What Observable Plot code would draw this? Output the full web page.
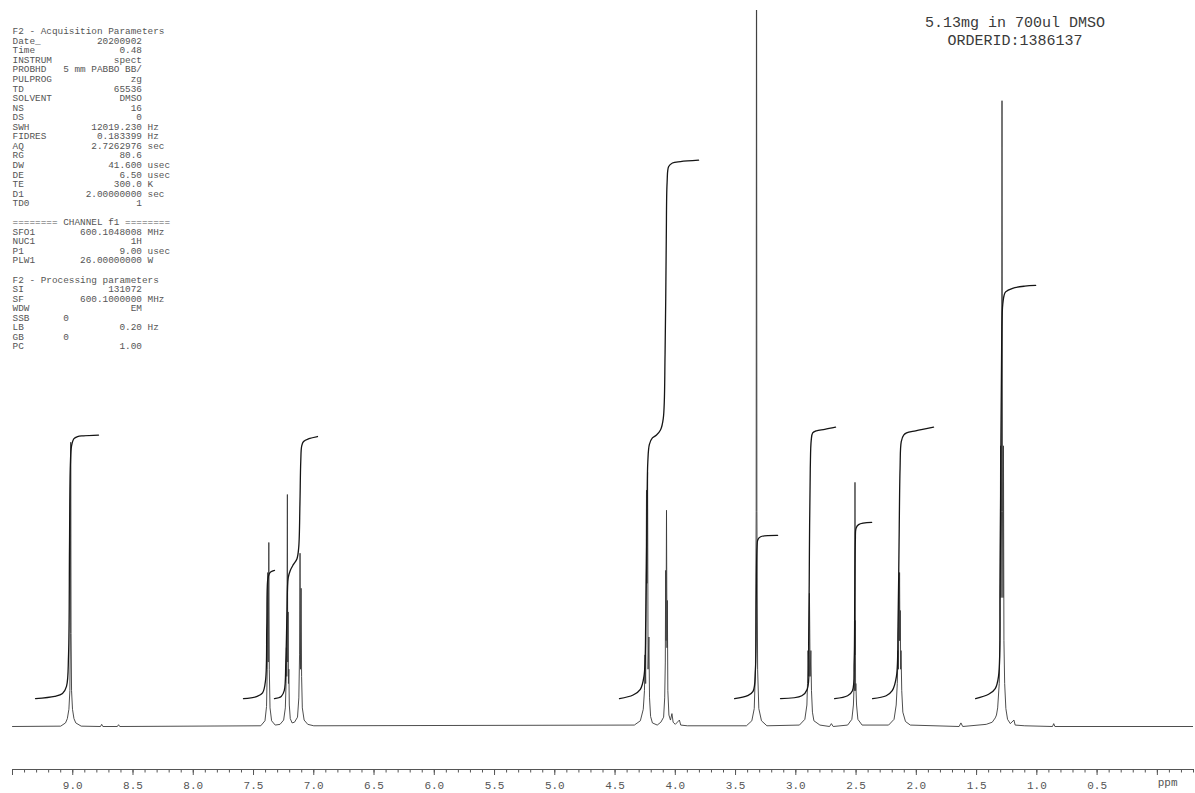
<!DOCTYPE html>
<html>
<head>
<meta charset="utf-8">
<script src="https://cdn.jsdelivr.net/npm/d3@7"></script>
<script src="https://cdn.jsdelivr.net/npm/@observablehq/plot@0.6"></script>
<style>
  html, body { margin: 0; padding: 0; background: #fff; }
  #chart svg text { white-space: pre; }
</style>
</head>
<body>
<div id="chart"></div>
<script>
// ---- 1H spectrum trace: [ppm, intensity] (100 = top of plot) ----
const baselineEnds = [[9.5, 0], [-0.3, 0]];
const m902 = [[9.10,0.05],[9.06,0.5],[9.045,1.1],[9.032,2.4],[9.024,5],[9.020,13],[9.017,39.7],[9.014,13],[9.010,5],[9.002,2.4],[8.99,1.1],[8.975,0.5],[8.93,0.05]];
const m738 = [[7.44,0.1],[7.405,0.8],[7.392,2.8],[7.386,8],[7.382,21.5],[7.378,9],[7.373,25.7],[7.369,8],[7.363,2.6],[7.35,0.8],[7.32,0.2]];
const m722 = [[7.28,0.3],[7.25,0.9],[7.236,2.6],[7.230,6],[7.227,11],[7.224,7],[7.219,32.4],[7.216,9],[7.213,16],[7.210,6],[7.207,8],[7.203,3],[7.195,1.1],[7.18,0.5],[7.16,0.6]];
const m711 = [[7.135,1.3],[7.124,4],[7.118,10],[7.114,24.2],[7.110,8],[7.105,19.3],[7.101,7],[7.095,2.6],[7.08,0.9],[7.05,0.3],[7.00,0.1]];
const m423 = [[4.34,0.2],[4.29,0.8],[4.266,2.4],[4.256,5],[4.251,10],[4.246,6],[4.239,33],[4.235,20],[4.230,35.5],[4.226,8],[4.219,12.5],[4.214,4],[4.205,1.4],[4.19,0.5],[4.15,0.2],[4.12,0.6]];
const m407 = [[4.097,1.3],[4.088,4],[4.083,9],[4.080,21.8],[4.077,12],[4.073,30.2],[4.069,11],[4.066,17.6],[4.062,5],[4.053,1.6],[4.04,0.9],[4.028,1.8],[4.018,0.6],[4.00,0.3],[3.966,0.9],[3.955,0.2],[3.90,0.1]];
const m333 = [[3.41,0.1],[3.365,0.8],[3.345,2.5],[3.335,8],[3.329,30],[3.326,130],[3.323,30],[3.317,8],[3.307,2.5],[3.285,0.8],[3.24,0.1]];
const m289 = [[2.97,0.2],[2.925,1],[2.908,3],[2.903,6],[2.899,10.6],[2.893,7],[2.887,18.6],[2.881,7],[2.875,10.6],[2.870,5],[2.862,2],[2.85,0.8],[2.80,0.2]];
const m251 = [[2.57,0.2],[2.535,1],[2.522,3],[2.516,6],[2.514,5],[2.512,14.8],[2.510,10],[2.509,34.1],[2.508,10],[2.506,14.8],[2.504,5],[2.502,6],[2.496,3],[2.485,1],[2.45,0.2]];
const m214 = [[2.23,0.2],[2.185,1],[2.167,3],[2.158,6],[2.152,10.6],[2.148,8],[2.145,17.6],[2.142,12],[2.139,21.5],[2.136,12],[2.133,16.2],[2.130,8],[2.127,10.6],[2.121,5],[2.112,2],[2.09,0.7],[2.05,0.2]];
const m129 = [[1.42,0.3],[1.37,0.6],[1.345,1.2],[1.335,1.6],[1.325,2.6],[1.312,6],[1.306,12],[1.301,39.2],[1.297,18],[1.293,30],[1.289,87.4],[1.285,30],[1.281,18],[1.277,39.2],[1.273,12],[1.267,6],[1.257,2.5],[1.243,1],[1.22,0.4],[1.19,0.9],[1.18,0.2],[1.10,0.1]];
const smallBumps = [[8.77,0],[8.76,0.3],[8.75,0],[8.63,0],[8.62,0.25],[8.61,0],[2.72,0],[2.705,0.4],[2.69,0],[1.645,0],[1.63,0.5],[1.615,0],[0.87,0],[0.86,0.4],[0.85,0]];

// ---- integral traces ----
const int902 = [[9.309,3.9],[9.15,4.2],[9.085,4.6],[9.052,5.6],[9.035,10],[9.027,25],[9.020,36.5],[9.010,39.2],[8.990,40.2],[8.960,40.5],[8.911,40.6],[8.786,40.7]];
const int738 = [[7.583,3.9],[7.47,4.2],[7.425,4.7],[7.40,6.5],[7.39,14],[7.382,20.5],[7.370,21.3],[7.355,21.6],[7.326,21.8]];
const int716 = [[7.326,3.9],[7.27,4.2],[7.245,5],[7.232,9],[7.222,16],[7.212,20.8],[7.195,21.8],[7.17,22.6],[7.14,23.4],[7.125,25],[7.115,31],[7.108,37],[7.10,39.2],[7.085,39.8],[7.04,40.2],[6.969,40.5]];
const int415 = [[4.463,3.9],[4.35,4.4],[4.29,5.2],[4.26,7],[4.245,15],[4.235,30],[4.228,37],[4.215,39.4],[4.19,40.3],[4.156,40.7],[4.123,41.4],[4.10,43],[4.085,52],[4.075,68],[4.068,76],[4.055,78.2],[4.024,78.7],[3.957,78.9],[3.807,79.1]];
const int333 = [[3.508,3.9],[3.40,4.3],[3.355,4.9],[3.335,8],[3.328,18],[3.322,25],[3.315,26.1],[3.292,26.5],[3.151,26.7]];
const int289 = [[3.127,3.9],[2.95,4.3],[2.905,5.2],[2.893,12],[2.887,25],[2.880,36],[2.872,40],[2.860,41.0],[2.83,41.3],[2.76,41.5],[2.670,41.8]];
const int251 = [[2.678,3.9],[2.57,4.3],[2.53,5],[2.516,9],[2.511,18],[2.506,26],[2.500,27.7],[2.479,28.2],[2.371,28.5]];
const int214 = [[2.363,3.9],[2.25,4.3],[2.20,5],[2.165,7],[2.152,14],[2.143,26],[2.135,36],[2.125,39.8],[2.105,40.7],[2.081,41.0],[2.006,41.3],[1.857,41.8]];
const int129 = [[1.508,3.9],[1.40,4.5],[1.345,5.3],[1.318,7],[1.305,20],[1.298,40],[1.292,53],[1.285,58.5],[1.272,60.2],[1.259,60.7],[1.201,61.2],[1.10,61.5],[1.010,61.6]];

// ---- axis ----
const tickValues = [9.0, 8.5, 8.0, 7.5, 7.0, 6.5, 6.0, 5.5, 5.0, 4.5, 4.0, 3.5, 3.0, 2.5, 2.0, 1.5, 1.0, 0.5];
const tickLabels = ["9.0","8.5","8.0","7.5","7.0","6.5","6.0","5.5","5.0","4.5","4.0","3.5","3.0","2.5","2.0","1.5","1.0","0.5"];
const unlabeledMajor = [9.5, 0.0];
const axisUnit = "ppm";

// ---- acquisition / processing parameters ----
const acqTitle = "F2 - Acquisition Parameters";
const acqNames  = ["Date_","Time","INSTRUM","PROBHD","PULPROG","TD","SOLVENT","NS","DS","SWH","FIDRES","AQ","RG","DW","DE","TE","D1","TD0"];
const acqValues = ["20200902","0.48","spect","5 mm PABBO BB/","zg","65536","DMSO","16","0","12019.230","0.183399","2.7262976","80.6","41.600","6.50","300.0","2.00000000","1"];
const acqUnits  = ["","","","","","","","","","Hz","Hz","sec","","usec","usec","K","sec",""];
const chanTitle = "======== CHANNEL f1 ========";
const chanNames  = ["SFO1","NUC1","P1","PLW1"];
const chanValues = ["600.1048008","1H","9.00","26.00000000"];
const chanUnits  = ["MHz","","usec","W"];
const procTitle = "F2 - Processing parameters";
const procNames  = ["SI","SF","WDW","SSB","LB","GB","PC"];
const procValues = ["131072","600.1000000","EM","0","0.20","0","1.00"];
const procUnits  = ["","MHz","","","Hz","",""];
const sampleLines = ["5.13mg in 700ul DMSO", "ORDERID:1386137"];

// fixed-width parameter listing
const leftAligned = new Set(["SSB", "GB"]);
function fmt(names, values, units) {
  return names.map((n, i) => {
    const v = leftAligned.has(n) ? values[i] : values[i].padStart(14);
    return n.padEnd(9) + v + (units[i] ? " " + units[i] : "");
  });
}
const paramText = [
  acqTitle, ...fmt(acqNames, acqValues, acqUnits), "",
  chanTitle, ...fmt(chanNames, chanValues, chanUnits), "",
  procTitle, ...fmt(procNames, procValues, procUnits)
].join("\n");

const trace = [baselineEnds, m902, m738, m722, m711, m423, m407, m333, m289, m251, m214, m129, smallBumps]
  .flat()
  .sort((a, b) => b[0] - a[0]);

const integrals = [int902, int738, int716, int415, int333, int289, int251, int214, int129]
  .flatMap((pts, id) => pts.map(([ppm, v]) => ({ppm, v, id})));

const labelOf = new Map(tickValues.map((t, i) => [t, tickLabels[i]]));
const minorTicks = d3.range(-3, 96).map(i => i / 10);
const mono = "Liberation Mono, DejaVu Sans Mono, monospace";

const chart = Plot.plot({
  width: 1195,
  height: 793,
  marginLeft: 12,
  marginRight: 2,
  marginTop: 10,
  marginBottom: 24,
  x: {domain: [9.5, -0.3]},
  y: {domain: [0, 100], range: [726, 10], axis: null},
  marks: [
    Plot.frame({anchor: "bottom", stroke: "#555"}),
    Plot.axisX({ticks: minorTicks, tickSize: 3.5, stroke: "#555", fill: "none", label: null}),
    Plot.axisX({ticks: unlabeledMajor, tickSize: 6, stroke: "#555", fill: "none", label: null}),
    Plot.axisX({
      ticks: tickValues, tickSize: 6, tickPadding: 6, stroke: "#555",
      tickFormat: d => labelOf.get(d), fill: "#555",
      fontFamily: mono, fontSize: 11, label: null
    }),
    Plot.text([axisUnit], {
      text: d => d, frameAnchor: "bottom-right", dx: -16, dy: 16,
      fontFamily: mono, fontSize: 11, fill: "#555"
    }),
    Plot.line(trace, {x: d => d[0], y: d => d[1], stroke: "#3a3a3a", strokeWidth: 0.9, clip: true}),
    Plot.line(integrals, {x: "ppm", y: "v", z: "id", stroke: "#151515", strokeWidth: 1.3, curve: "catmull-rom"}),
    Plot.text([paramText], {
      text: d => d, frameAnchor: "top-left", lineAnchor: "top", textAnchor: "start",
      dy: 17, fontFamily: mono, fontSize: 9.4, lineHeight: 1.016, fill: "#555"
    }),
    Plot.text([sampleLines.join("\n")], {
      text: d => d, frameAnchor: "top", lineAnchor: "top", textAnchor: "middle",
      dx: 412, dy: 4, fontFamily: mono, fontSize: 15, lineHeight: 1.2, fill: "#3a3a3a"
    })
  ]
});

document.getElementById("chart").appendChild(chart);
</script>
</body>
</html>
